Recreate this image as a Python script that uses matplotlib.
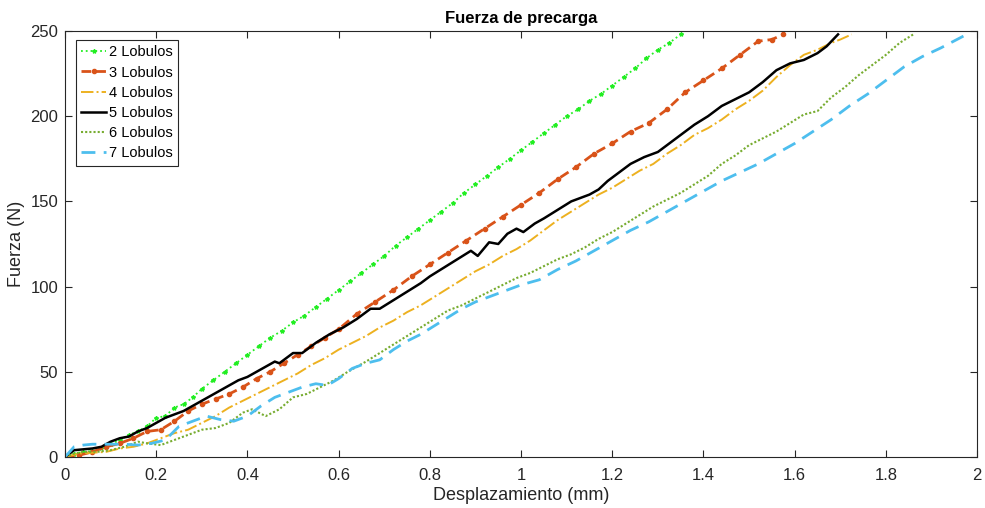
import numpy as np
import matplotlib
matplotlib.use("Agg")
import matplotlib.pyplot as plt

plt.rcParams['font.family'] = ['Liberation Sans', 'DejaVu Sans']

# Curvas fuerza-desplazamiento por numero de lobulos
x2 = [0, .02, .04, .06, .08, .10, .12, .14, .16, .18, .20, .22, .24, .26, .28, .30, .325, .35, .375,
      .40, .425, .45, .475, .50, .525, .55, .575, .60, .625, .65, .675, .70, .725, .75, .775, .80,
      .825, .85, .875, .90, .925, .95, .975, 1.00, 1.025, 1.05, 1.075, 1.10, 1.125, 1.15, 1.175,
      1.20, 1.225, 1.25, 1.275, 1.30, 1.325, 1.35]
f2 = [0, 2, 3, 3.5, 5, 7.5, 10, 13, 15, 18, 23, 24, 29, 31, 35, 40, 45, 50, 55,
      60, 65, 70, 74, 79, 83, 88, 93, 98, 103, 108, 113, 118, 124, 129, 134, 139,
      144, 149, 155, 160, 165, 170, 175, 180, 185, 190, 195, 200, 204, 209, 213,
      218, 223, 228, 234, 239, 243, 248]

x3 = [0, .03, .06, .09, .12, .15, .18, .21, .24, .27, .30, .33, .36, .39, .42, .45, .48, .51, .54,
      .57, .60, .64, .68, .72, .76, .80, .84, .88, .92, .96, 1.00, 1.04, 1.08, 1.12, 1.16, 1.20,
      1.24, 1.28, 1.32, 1.36, 1.40, 1.44, 1.48, 1.52, 1.55, 1.575]
f3 = [0, 1, 3, 6, 8, 11, 15, 16, 21, 27, 31, 34, 37, 41, 46, 50, 55, 60, 65,
      70, 75, 84, 91, 98, 106, 113, 120, 127, 134, 141, 148, 155, 163, 170, 178, 184,
      191, 196, 204, 214, 221, 228, 236, 244, 245, 248]

x4 = [0, .03, .06, .09, .12, .15, .18, .21, .24, .27, .30, .33, .36, .39, .42, .45, .48, .51, .54,
      .57, .60, .63, .66, .69, .72, .75, .78, .81, .84, .87, .90, .93, .96, .99, 1.02, 1.05,
      1.08, 1.11, 1.14, 1.17, 1.20, 1.23, 1.26, 1.29, 1.32, 1.35, 1.38, 1.41, 1.44, 1.47, 1.50,
      1.53, 1.56, 1.59, 1.62, 1.65, 1.68, 1.70, 1.725]
f4 = [0, 2, 2.5, 3, 5, 6, 8, 11, 14, 16, 20, 24, 29, 33, 37, 41, 45, 49, 54,
      58, 63, 67, 71, 76, 80, 85, 89, 94, 99, 104, 109, 113, 118, 122, 127, 133,
      139, 144, 149, 154, 158, 163, 168, 172, 178, 183, 189, 193, 198, 204, 209,
      215, 223, 230, 236, 239, 243, 245, 248]

x5 = [0, .02, .04, .06, .08, .10, .12, .14, .16, .18, .20, .22, .24, .26, .28, .30, .32, .34, .36,
      .38, .40, .42, .44, .46, .47, .49, .50, .52, .55, .58, .61, .64, .67, .69, .72, .75, .78,
      .80, .83, .86, .89, .905, .93, .95, .97, .99, 1.005, 1.03, 1.05, 1.08, 1.11, 1.15, 1.17,
      1.19, 1.21, 1.24, 1.27, 1.30, 1.33, 1.36, 1.38, 1.41, 1.44, 1.47, 1.50, 1.53, 1.56, 1.59,
      1.62, 1.65, 1.67, 1.695]
f5 = [0, 4, 4.5, 5, 6, 9, 11, 12, 15, 17, 20, 23, 25, 27, 30, 33, 36, 39, 42,
      45, 47, 50, 53, 56, 55, 59, 61, 61, 67, 72, 76, 81, 87, 87, 92, 97, 102,
      106, 111, 116, 121, 118, 126, 125, 131, 134, 132, 137, 140, 145, 150, 154, 157,
      162, 166, 172, 176, 179, 185, 191, 195, 200, 206, 210, 214, 220, 227, 231,
      233, 237, 241, 248]

x6 = [0, .02, .04, .07, .10, .13, .16, .18, .21, .24, .27, .30, .33, .36, .39, .41, .44, .47, .50,
      .53, .56, .59, .62, .66, .69, .72, .75, .78, .81, .84, .87, .90, .93, .96, .99, 1.02,
      1.05, 1.08, 1.11, 1.14, 1.17, 1.20, 1.23, 1.26, 1.29, 1.32, 1.35, 1.38, 1.41, 1.44, 1.47,
      1.50, 1.53, 1.56, 1.59, 1.62, 1.65, 1.68, 1.71, 1.74, 1.77, 1.80, 1.83, 1.86]
f6 = [0, 2, 3, 3, 4, 6, 9, 8, 7, 10, 13, 16, 17, 20, 26, 28, 24, 28, 35,
      37, 41, 45, 50, 56, 61, 66, 71, 76, 81, 86, 89, 93, 97, 101, 105, 108,
      112, 116, 119, 123, 128, 132, 137, 142, 147, 151, 155, 160, 165, 172, 177,
      183, 187, 191, 196, 201, 203, 211, 217, 224, 230, 236, 243, 248]

x7 = [0, .02, .04, .06, .08, .10, .13, .16, .19, .22, .25, .28, .31, .34, .37, .40, .43, .46, .49,
      .52, .55, .575, .60, .63, .66, .69, .72, .75, .78, .81, .84, .87, .90, .93, .96, 1.00,
      1.04, 1.08, 1.12, 1.16, 1.20, 1.24, 1.28, 1.32, 1.36, 1.40, 1.44, 1.48, 1.52, 1.56, 1.60,
      1.64, 1.68, 1.72, 1.76, 1.80, 1.84, 1.88, 1.92, 1.97]
f7 = [0, 6, 7, 7.5, 7.5, 7.5, 7.5, 7, 8, 10, 18, 21, 24, 22, 21, 24, 30, 35, 38,
      41, 43, 42, 46, 52, 55, 57, 63, 68, 72, 77, 82, 87, 91, 94, 97, 101,
      104, 110, 115, 121, 127, 133, 138, 144, 150, 156, 162, 167, 172, 178, 184,
      191, 198, 206, 213, 221, 229, 235, 240, 247]

etiquetas = ['2 Lobulos', '3 Lobulos', '4 Lobulos', '5 Lobulos', '6 Lobulos', '7 Lobulos']
xticks = [0, 0.2, 0.4, 0.6, 0.8, 1, 1.2, 1.4, 1.6, 1.8, 2]
xticklabels = ['0', '0.2', '0.4', '0.6', '0.8', '1', '1.2', '1.4', '1.6', '1.8', '2']
yticks = [0, 50, 100, 150, 200, 250]

fig = plt.figure(figsize=(9.85, 5.08), dpi=100)
ax = fig.add_axes([0.066, 0.1004, 0.926, 0.8386])

ax.plot(x2, f2, color='#22ee22', linestyle=':', linewidth=1.3, marker='*', markersize=3,
        label=etiquetas[0])
ax.plot(x3, f3, color='#D95319', linestyle=(0, (3.5, 1.8)), linewidth=2, marker='.',
        markersize=6, label=etiquetas[1])
ax.plot(x4, f4, color='#EDB120', linestyle='-.', linewidth=1.4, label=etiquetas[2])
ax.plot(x5, f5, color='black', linestyle='-', linewidth=1.8, label=etiquetas[3])
ax.plot(x6, f6, color='#77AC30', linestyle=(0, (1, 1)), linewidth=1.5, label=etiquetas[4])
ax.plot(x7, f7, color='#4DBEEE', linestyle=(0, (5, 3)), linewidth=2, label=etiquetas[5])

ax.set_xlim(0, 2)
ax.set_ylim(0, 250)
ax.set_xticks(xticks)
ax.set_xticklabels(xticklabels)
ax.set_yticks(yticks)

for s in ax.spines.values():
    s.set_color('#262626')
    s.set_linewidth(0.8)
ax.tick_params(direction='in', top=True, right=True, length=5, width=0.8,
               colors='#262626', labelsize=12)
ax.tick_params(axis='x', pad=8)
ax.tick_params(axis='y', pad=5)

ax.set_title('Fuerza de precarga', fontsize=12, fontweight='bold', pad=6)
ax.set_xlabel('Desplazamiento (mm)', fontsize=13, color='#262626', labelpad=3)
ax.set_ylabel('Fuerza (N)', fontsize=13, color='#262626', labelpad=4)

leg = ax.legend(loc='upper left', bbox_to_anchor=(0.012, 0.979), fontsize=10.5, numpoints=1,
                fancybox=False, framealpha=1, edgecolor='#262626', handlelength=1.7,
                handletextpad=0.2, borderpad=0.38, labelspacing=0.42, borderaxespad=0)
leg.get_frame().set_linewidth(0.8)

fig.savefig('out.png', dpi=100)
